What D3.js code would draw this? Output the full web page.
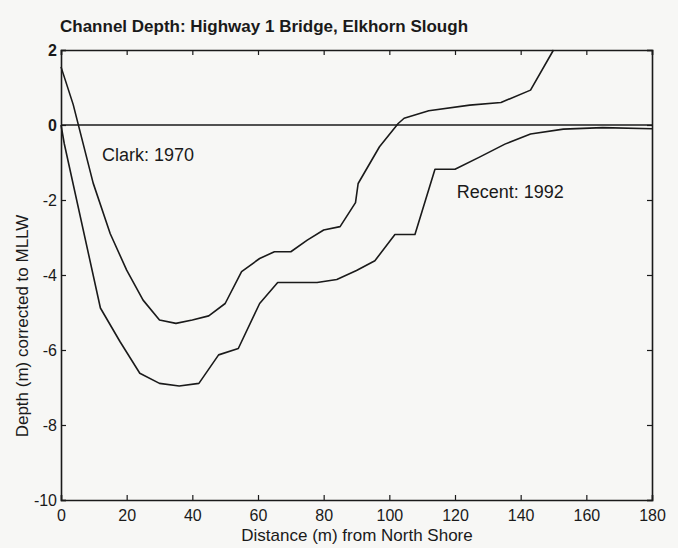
<!DOCTYPE html>
<html><head><meta charset="utf-8">
<script src="https://cdn.jsdelivr.net/npm/d3@7"></script>
<style>
html,body{margin:0;padding:0;background:#f7f7f5;}
svg{display:block;}
</style></head>
<body>
<svg id="chart" width="678" height="548"></svg>
<script>
// ---- data ----
const clarkX = [0, 3.7, 9.8, 15, 20, 25, 30, 35, 40, 45, 50, 55, 60.5, 65, 70, 75, 80, 85, 89.7, 90.5, 97, 102.7, 104.5, 112, 124.5, 134, 143, 150];
const clarkY = [1.55, 0.55, -1.55, -2.9, -3.87, -4.67, -5.2, -5.29, -5.2, -5.09, -4.76, -3.91, -3.56, -3.38, -3.38, -3.07, -2.8, -2.71, -2.07, -1.56, -0.58, 0.04, 0.18, 0.38, 0.53, 0.6, 0.93, 2.0];
const recentX = [0, 1, 12, 18, 24, 30, 36, 42, 48, 54, 60.5, 66, 78, 84, 90, 95.6, 101.7, 107.8, 113.9, 120, 127.6, 135.2, 143, 153, 165, 180];
const recentY = [0, -0.5, -4.88, -5.78, -6.62, -6.89, -6.96, -6.89, -6.13, -5.96, -4.76, -4.2, -4.2, -4.12, -3.88, -3.62, -2.92, -2.92, -1.18, -1.18, -0.85, -0.51, -0.24, -0.11, -0.07, -0.1];
const xTicks = [0, 20, 40, 60, 80, 100, 120, 140, 160, 180];
const yTicks = [2, 0, -2, -4, -6, -8, -10];
const title = "Channel Depth: Highway 1 Bridge, Elkhorn Slough";
const xLabel = "Distance (m) from North Shore";
const yLabel = "Depth (m) corrected to MLLW";
const seriesLabels = [
  {text: "Clark: 1970", x: 12.5, y: -0.95},
  {text: "Recent: 1992", x: 120.5, y: -1.95}
];

// ---- layout ----
const svg = d3.select("#chart");
const L = 61, R = 652, T = 50, B = 500;
const x = d3.scaleLinear().domain([0, 180]).range([L, R]);
const y = d3.scaleLinear().domain([-10, 2]).range([B, T]);
const ink = "#1a1a1a";
const font = "'Liberation Sans',Arial,sans-serif";
const fmt = d => String(d); // plain hyphen-minus like the original

svg.append("text").attr("x", 60).attr("y", 32)
  .attr("font-family", font).attr("font-weight", "bold").attr("font-size", 17)
  .attr("fill", ink).text(title);

// axes (inward ticks)
const tickLen = 5;
const gx = svg.append("g").attr("transform", `translate(0,${B})`)
  .call(d3.axisBottom(x).tickValues(xTicks).tickSize(-tickLen).tickPadding(10).tickFormat(fmt));
const gxt = svg.append("g").attr("transform", `translate(0,${T})`)
  .call(d3.axisTop(x).tickValues(xTicks).tickSize(-tickLen).tickFormat(""));
const gy = svg.append("g").attr("transform", `translate(${L},0)`)
  .call(d3.axisLeft(y).tickValues(yTicks).tickSize(-tickLen).tickPadding(4).tickFormat(fmt));
const gyr = svg.append("g").attr("transform", `translate(${R},0)`)
  .call(d3.axisRight(y).tickValues(yTicks).tickSize(-tickLen).tickFormat(""));
[gx, gxt, gy, gyr].forEach(g => {
  g.selectAll("path.domain").attr("stroke", ink).attr("stroke-width", 1.6);
  g.selectAll(".tick line").attr("stroke", ink).attr("stroke-width", 1.2);
  g.selectAll(".tick text").attr("font-family", font).attr("font-size", 16).attr("fill", ink);
});
gx.selectAll(".tick text").attr("dy", "0.71em");
gy.selectAll(".tick text").attr("dy", "0.32em");
gy.selectAll(".tick").filter(d => d === 2 || d === 0).select("text").attr("font-weight", "bold");

// zero line
svg.append("line").attr("x1", x(0)).attr("x2", x(180)).attr("y1", y(0)).attr("y2", y(0))
  .attr("stroke", ink).attr("stroke-width", 1.6);

const line = d3.line().x(d => x(d[0])).y(d => y(d[1]));
const clark = clarkX.map((v, i) => [v, clarkY[i]]);
const recent = recentX.map((v, i) => [v, recentY[i]]);
[clark, recent].forEach(data => {
  svg.append("path").datum(data).attr("d", line)
    .attr("fill", "none").attr("stroke", ink).attr("stroke-width", 1.6).attr("stroke-linejoin", "round");
});

seriesLabels.forEach(s => {
  svg.append("text").attr("x", x(s.x)).attr("y", y(s.y))
    .attr("font-family", font).attr("font-size", 18).attr("fill", ink).text(s.text);
});

svg.append("text").attr("x", 357).attr("y", 541).attr("text-anchor", "middle")
  .attr("font-family", font).attr("font-size", 17).attr("fill", ink).text(xLabel);
svg.append("text").attr("transform", `translate(28,326) rotate(-90)`)
  .attr("text-anchor", "middle")
  .attr("font-family", font).attr("font-size", 17).attr("fill", ink).text(yLabel);
</script>
</body></html>
